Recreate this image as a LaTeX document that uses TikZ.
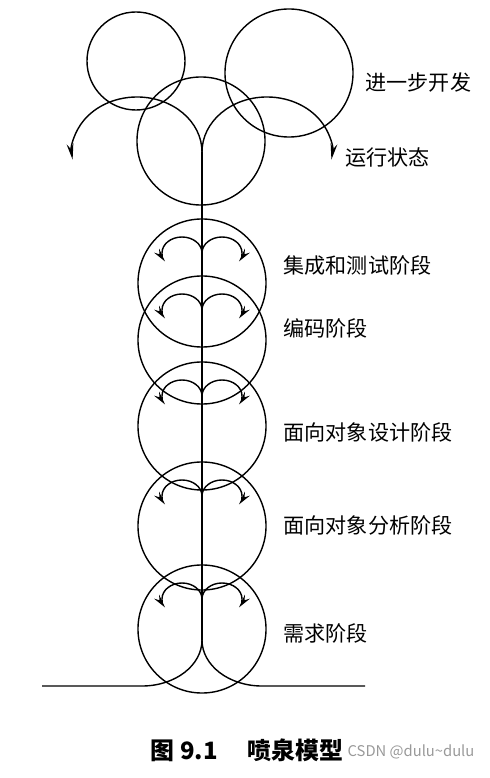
\documentclass[tikz,border=0pt]{standalone}
\usepackage{fontspec}
\newfontfamily\cjk{Noto Sans CJK SC}
\usetikzlibrary{arrows.meta}

\begin{document}
\begin{tikzpicture}[x=0.025cm,y=0.025cm,line width=1pt,
                phase node/.style={circle,draw,inner sep=0pt,minimum size=3.2cm},
                small node/.style={circle,draw,inner sep=0pt,minimum size=2.45cm},
                label node/.style={anchor=west,inner sep=0pt,font=\cjk\fontsize{15}{18}\selectfont},
                flow/.style={-{Stealth[length=0.34cm,width=0.16cm]}},
                spring/.style={-{Stealth[length=0.4cm,width=0.17cm]}}]
  \useasboundingbox (0,0) rectangle (490,778);

  % top of the fountain
  \node[small node] (dev1) at (136,717) {};
  \node[phase node] (dev2) at (289,705) {};
  \node[phase node] (run)  at (201,637) {};

  % stacked phases
  \node[phase node] (c1) at (202,495) {};
  \node[phase node] (c2) at (202,438) {};
  \node[phase node] (c3) at (202,352) {};
  \node[phase node] (c4) at (202,252) {};
  \node[phase node] (c5) at (202,149) {};

  \coordinate (tip)  at (202,626);
  \coordinate (root) at (202,138);
  \coordinate (gl)   at (42,92);
  \coordinate (gr)   at (365,92);

  % stem and ground
  \draw (tip) -- (root);
  \draw (root) arc[start angle=0,end angle=-90,x radius=1.5cm,y radius=1.15cm] -- (gl);
  \draw (root) arc[start angle=180,end angle=270,x radius=1.5cm,y radius=1.15cm] -- (gr);

  % big arcs at the top
  \draw[spring] (tip) arc[start angle=0,end angle=188,x radius=1.625cm,y radius=1.375cm];
  \draw[spring] (tip) arc[start angle=180,end angle=-8,x radius=1.625cm,y radius=1.375cm];

  % small arcs in each phase
  \foreach \c in {c1,c2,c3,c4,c5} {
    \draw[flow] ([yshift=0.75cm]\c.center) arc[start angle=0,end angle=212,x radius=0.5cm,y radius=0.4cm];
    \draw[flow] ([yshift=0.75cm]\c.center) arc[start angle=180,end angle=-32,x radius=0.5cm,y radius=0.4cm];
  }

  % labels
  \node[label node] (l1) at (365,696) {进一步开发};
  \node[label node] (l2) at (345,621) {运行状态};
  \node[label node] (l3) at (283,513) {集成和测试阶段};
  \node[label node] (l4) at (283,450) {编码阶段};
  \node[label node] (l5) at (283,346) {面向对象设计阶段};
  \node[label node] (l6) at (283,253) {面向对象分析阶段};
  \node[label node] (l7) at (283,145) {需求阶段};

  \node[anchor=west,inner sep=0pt,font=\cjk\bfseries\fontsize{17}{20}\selectfont] (cap) at (150,28) {图 9.1\hspace{0.75cm}喷泉模型};
  \node[anchor=west,inner sep=0pt,text=black!40,font=\cjk\fontsize{10.5}{12}\selectfont] (wm) at (347,26) {CSDN @dulu\textasciitilde dulu};
\end{tikzpicture}
\end{document}
